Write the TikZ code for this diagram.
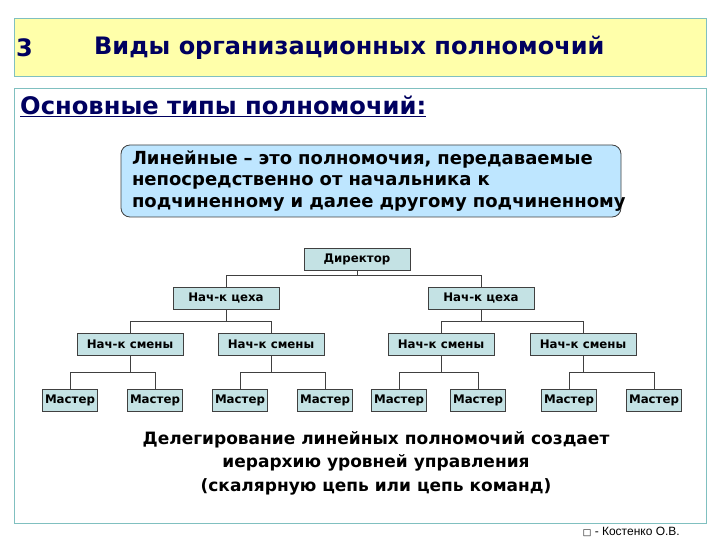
\documentclass[tikz,border=0pt]{standalone}
\usepackage{fontspec}
\setmainfont{DejaVu Sans}
\newfontfamily\footfont{Liberation Sans}
\usepackage{tikz}
\usetikzlibrary{positioning, calc}
\definecolor{titlefill}{RGB}{255,255,170}
\definecolor{frameteal}{RGB}{128,192,192}
\definecolor{navytext}{RGB}{0,0,96}
\definecolor{postfill}{RGB}{196,226,228}
\definecolor{notefill}{RGB}{190,230,255}
\definecolor{linkgray}{RGB}{64,64,64}

\begin{document}
\begin{tikzpicture}[
    x=1pt, y=-1pt,
    frame/.style={draw=frameteal, line width=1pt},
    post/.style={draw=linkgray, fill=postfill, line width=0.8pt, minimum height=22pt, inner sep=0pt, font=\fontsize{11.8}{14}\selectfont\bfseries},
    wide/.style={post, minimum width=106pt},
    small/.style={post, minimum width=55pt},
    link/.style={draw=linkgray, line width=0.8pt},
]
    \useasboundingbox (0,0) rectangle (720,540);

    % title and main frame
    \draw[frame, fill=titlefill] (14,19) rectangle (706,77);
    \draw[frame, fill=white] (14,89) rectangle (706,523);
    \node[anchor=west, inner sep=0pt, text=navytext, font=\fontsize{24}{26}\selectfont\bfseries] (num) at (16,48) {3};
    \node[anchor=west, inner sep=0pt, text=navytext, font=\fontsize{24}{26}\selectfont\bfseries] (title) at (94,48) {Виды организационных полномочий};
    \node[anchor=west, inner sep=0pt, text=navytext, font=\fontsize{24.2}{26}\selectfont\bfseries] (head) at (20,106) {\underline{Основные типы полномочий:}};

    % definition box
    \node[draw=linkgray, fill=notefill, rounded corners=9pt, line width=0.8pt, text width=478pt, minimum height=72pt, inner xsep=11pt, inner ysep=2pt, align=left, font=\fontsize{18}{21.5}\selectfont\bfseries] (note) at (371,181)
        {Линейные – это полномочия, передаваемые\\непосредственно от начальника к\\\mbox{подчиненному и далее другому подчиненному}};

    % org chart
    \node[wide] (dir) at (357,259) {Директор};
    \node[wide] (ceh1) at (226,298) {Нач-к цеха};
    \node[wide] (ceh2) at (481,298) {Нач-к цеха};
    \node[wide] (sm1) at (130,344) {Нач-к смены};
    \node[wide] (sm2) at (271,344) {Нач-к смены};
    \node[wide] (sm3) at (441,344) {Нач-к смены};
    \node[wide] (sm4) at (583,344) {Нач-к смены};
    \node[small] (m1) at (70,400) {Мастер};
    \node[small] (m2) at (155,400) {Мастер};
    \node[small] (m3) at (240,400) {Мастер};
    \node[small] (m4) at (325,400) {Мастер};
    \node[small] (m5) at (399,400) {Мастер};
    \node[small] (m6) at (478,400) {Мастер};
    \node[small] (m7) at (569,400) {Мастер};
    \node[small] (m8) at (654,400) {Мастер};

    \draw[link] (dir.south) -- ++(0,5) -| (ceh1.north);
    \draw[link] (dir.south) -- ++(0,5) -| (ceh2.north);
    \draw[link] (ceh1.south) -- ++(0,12) -| (sm1.north);
    \draw[link] (ceh1.south) -- ++(0,12) -| (sm2.north);
    \draw[link] (ceh2.south) -- ++(0,12) -| (sm3.north);
    \draw[link] (ceh2.south) -- ++(0,12) -| (sm4.north);
    \draw[link] (sm1.south) -- ++(0,17) -| (m1.north);
    \draw[link] (sm1.south) -- ++(0,17) -| (m2.north);
    \draw[link] (sm2.south) -- ++(0,17) -| (m3.north);
    \draw[link] (sm2.south) -- ++(0,17) -| (m4.north);
    \draw[link] (sm3.south) -- ++(0,17) -| (m5.north);
    \draw[link] (sm3.south) -- ++(0,17) -| (m6.north);
    \draw[link] (sm4.south) -- ++(0,17) -| (m7.north);
    \draw[link] (sm4.south) -- ++(0,17) -| (m8.north);

    % conclusion and footer
    \node[align=center, inner sep=0pt, font=\fontsize{17}{23.5}\selectfont\bfseries] (sum) at (376,463)
        {Делегирование линейных полномочий создает\\иерархию уровней управления\\(скалярную цепь или цепь команд)};
    \node[anchor=east, inner sep=0pt, font=\footfont\fontsize{12}{14}\selectfont] (foot) at (680,532) {{\fontspec{DejaVu Sans}\fontsize{9}{10}\selectfont □} - Костенко О.В.};
\end{tikzpicture}
\end{document}
